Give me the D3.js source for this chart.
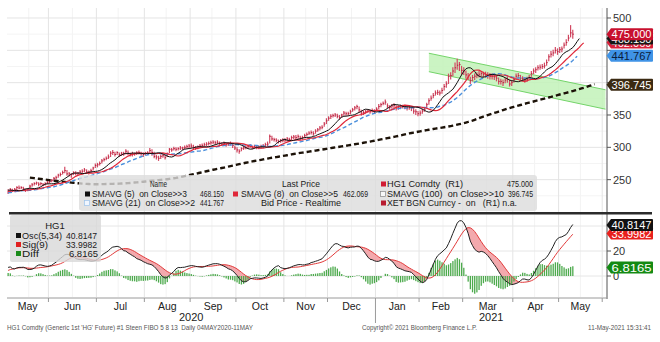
<!DOCTYPE html>
<html><head><meta charset="utf-8">
<script src="https://cdn.jsdelivr.net/npm/d3@7"></script>
<style>
body{margin:0;background:#fff}
svg{display:block}
text{font-family:"Liberation Sans",Arial,sans-serif;white-space:pre}
</style>
</head><body>
<svg id="c" width="660" height="342"></svg>
<script>
// ---------------- DATA ----------------
const startDate = "2020-05-04";
const holidays = ["2020-05-25","2020-07-03","2020-09-07","2020-11-26","2020-12-25","2021-01-01","2021-04-02","2021-05-31"];
// closes before the window (12-Dec-2019 .. 01-May-2020), only feed the averages
const preClose = [
 277,279,281,281,280,280,281,282,282,284,284,282,280,
 283,279,278,279,279,281,283,285,287,285,286,287,286,280,276,270,265,255,255,254,252,251,
 253,255,260,260,256,257,261,262,260,260,260,260,262,262,259,255,257,256,255,251,
 255,258,260,
 258,256,250,254,252,246,247,241,234,222,213,216,212,217,220,218,219,217,224,
 217,223,221,221,227,228,230,231,233,230,231,235,233,228,231,233,233,232,233,238,233,231];
// daily HG1 close / high / low, 04-May-2020 .. 11-May-2021 (US cents/lb)
const close = [
 231,235,233,235,238,237,238,236,234,235,240,242,244,245,243,244,242,244,246,
 247,249,252,253,257,258,261,264,259,259,258,261,260,260,262,263,265,262,262,264,268,272,
 273,275,279,281,283,285,291,292,289,292,289,291,290,294,291,289,290,290,291,292,290,289,
 291,291,295,292,286,285,283,286,287,284,290,297,296,298,297,298,299,299,300,301,302,
 302,300,299,301,302,303,304,305,306,307,308,307,308,306,305,306,304,305,306,303,299,
 296,294,298,299,300,301,302,300,301,300,300,301,302,304,305,317,313,312,311,309,310,311,
 311,313,312,315,316,315,317,314,315,318,320,322,323,321,325,327,330,331,336,341,
 345,348,349,350,348,346,350,353,352,352,355,358,361,363,358,353,354,355,356,355,357,356,
 359,363,366,368,370,364,362,364,365,361,362,362,363,363,361,362,361,356,355,352,
 353,356,359,366,372,376,380,384,385,384,388,394,398,410,411,418,423,427,428,419,
 418,412,410,403,408,410,412,413,414,413,412,411,410,410,409,407,402,402,400,404,405,398,400,
 405,410,411,407,406,404,405,408,414,418,420,423,424,425,426,431,440,444,446,450,448,
 451,452,458,462,469,477,475];
const high = [
 235,237,236,237,240,241,240,239,236,237,242,245,246,247,246,246,245,246,248,
 249,251,254,256,259,261,264,270,265,262,260,263,263,262,265,266,268,266,264,267,270,275,
 276,278,282,284,286,289,294,296,293,294,292,293,293,297,295,292,293,292,294,295,293,292,
 293,294,299,297,293,288,287,289,290,288,292,299,299,301,300,300,302,301,303,304,305,
 306,304,302,303,305,306,307,308,309,310,311,310,311,309,308,309,307,308,309,307,303,
 300,297,300,302,303,304,305,303,304,303,303,304,305,307,309,320,318,315,314,312,313,314,
 314,316,315,318,319,319,320,318,318,321,323,325,326,325,328,330,333,334,339,345,
 348,351,352,353,352,350,352,356,355,355,358,361,364,366,363,358,357,358,359,358,360,359,
 362,367,369,371,374,368,365,367,368,365,365,366,366,366,364,365,364,361,359,356,
 357,360,362,369,376,380,384,388,389,388,392,398,402,414,416,424,431,437,432,426,
 424,419,415,409,412,414,416,418,418,417,417,416,415,414,414,412,408,406,405,408,410,405,404,
 409,414,415,412,410,408,409,412,418,422,424,427,428,429,431,436,444,449,451,455,453,
 455,456,462,467,474,489,482];
const low = [
 228,230,231,232,234,235,235,233,231,232,235,239,241,242,240,241,240,241,243,
 244,246,248,250,253,255,258,260,256,255,253,257,257,257,259,260,262,259,258,261,264,268,
 269,272,275,278,280,282,285,288,286,288,285,287,287,289,288,286,286,287,288,289,287,285,
 288,288,290,287,283,281,279,282,284,281,285,291,293,295,294,295,296,296,297,298,299,
 299,297,296,297,299,300,301,302,303,304,305,304,305,302,302,303,301,302,303,299,296,
 292,290,294,296,297,298,299,297,298,297,297,298,299,300,301,306,310,309,308,306,307,308,
 308,309,309,311,313,312,313,311,312,314,317,319,320,318,321,324,326,328,332,336,
 341,344,346,347,345,343,346,349,349,349,351,355,357,359,354,349,350,352,353,352,354,352,
 355,359,362,365,366,360,358,360,361,357,358,359,360,359,357,358,356,352,350,348,
 349,352,355,360,366,372,376,380,381,380,383,388,392,398,405,410,415,420,418,412,
 412,406,404,398,402,404,407,408,409,408,408,406,405,405,404,402,397,397,395,399,400,394,395,
 400,405,407,403,402,400,401,404,409,413,415,419,420,421,422,426,433,439,441,445,443,
 446,447,453,457,464,470,468];
// moving-average settings: [period, forward shift]
const maSettings = {sma5:[5,3], sma8:[8,5], sma21:[21,2], sma100:[100,10]};
// trend channel
const channelDates = ["2021-02-05","2021-06-02"];
const channelTop = [445.5, 389];
const channelBot = [417, 359];
// axis ticks (labels shown)
const priceTicks = [250,300,350,400,450,500];
const priceLabels = [250,300,350,500];
const oscTicks = [0,20,40];
const oscLabels = [0,20];
// last values
const lastVals = {hg1:475.000, sma5:468.150, sma8:462.069, sma21:441.767, sma100:396.745, osc:40.8147, sig:33.9982, diff:6.8165};

// ---------------- SETUP ----------------
function tradingDays(start, n, hol){
  const out=[], hs=new Set(hol), d=new Date(start+"T00:00:00Z");
  while(out.length<n){const wd=d.getUTCDay(), s=d.toISOString().slice(0,10);
    if(wd!==0&&wd!==6&&!hs.has(s)) out.push(s); d.setUTCDate(d.getUTCDate()+1);}
  return out;
}
const days = tradingDays(startDate, 285, holidays);
const idxOf = new Map(days.map((d,i)=>[d,i]));
const N = close.length, P = preClose.length;
const all = preClose.concat(close);

const svg = d3.select("#c");
const L=7, R=607, mT=8, mB=212, oT=214, oB=297;
const x = d3.scaleLinear().domain([-0.5, 274.7]).range([L, R]);
const y = d3.scaleLinear().domain([200, 515.46]).range([mB, mT]);
const yo = d3.scaleLinear().domain([-16.8, 49.6]).range([oB, oT]);

const defs = svg.append("defs");
defs.append("clipPath").attr("id","cm").append("rect").attr("x",L).attr("y",mT).attr("width",R-L).attr("height",mB-mT);
defs.append("clipPath").attr("id","co").append("rect").attr("x",L).attr("y",oT).attr("width",R-L).attr("height",oB-oT);

// month boundaries
const bounds=[]; const mids=[];
for(let i=1;i<days.length;i++){
  if(days[i].slice(5,7)!==days[i-1].slice(5,7)) bounds.push({i, m:days[i].slice(0,7)});
  if(+days[i].slice(8,10)>=16 && +days[i-1].slice(8,10)<16) mids.push(i);
}
const gBounds = bounds.filter(b=>x(b.i-0.5)<R);

// ---------------- GRID ----------------
const grid = svg.append("g");
mids.filter(i=>x(i-0.5)<R).forEach(i=>{
  grid.append("line").attr("x1",x(i-0.5)).attr("x2",x(i-0.5)).attr("y1",mT).attr("y2",mB).attr("stroke","#f3f3f3");
  grid.append("line").attr("x1",x(i-0.5)).attr("x2",x(i-0.5)).attr("y1",oT).attr("y2",oB).attr("stroke","#f3f3f3");
});
[225,275,325,375,425,475].forEach(v=>grid.append("line").attr("x1",L).attr("x2",R).attr("y1",y(v)).attr("y2",y(v)).attr("stroke","#f4f4f4"));
gBounds.forEach(b=>{
  grid.append("line").attr("x1",x(b.i-0.5)).attr("x2",x(b.i-0.5)).attr("y1",mT).attr("y2",mB).attr("stroke","#e4e4e4");
  grid.append("line").attr("x1",x(b.i-0.5)).attr("x2",x(b.i-0.5)).attr("y1",oT).attr("y2",oB).attr("stroke","#e4e4e4");
});
priceTicks.forEach(v=>grid.append("line").attr("x1",L).attr("x2",R).attr("y1",y(v)).attr("y2",y(v)).attr("stroke","#e4e4e4"));
oscTicks.forEach(v=>grid.append("line").attr("x1",L).attr("x2",R).attr("y1",yo(v)).attr("y2",yo(v)).attr("stroke","#e6e6e6"));

// ---------------- MAIN PANEL ----------------
const gm = svg.append("g").attr("clip-path","url(#cm)");
const c0=idxOf.get(channelDates[0]), c1=idxOf.get(channelDates[1]);
gm.append("path").attr("d",`M${x(c0)},${y(channelTop[0])}L${x(c1)},${y(channelTop[1])}L${x(c1)},${y(channelBot[1])}L${x(c0)},${y(channelBot[0])}Z`)
  .attr("fill","#c2f2b8").attr("opacity",0.85);
[channelTop,channelBot].forEach(a=>gm.append("line").attr("x1",x(c0)).attr("y1",y(a[0])).attr("x2",x(c1)).attr("y2",y(a[1])).attr("stroke","#74d46a").attr("stroke-width",1));

// price bars
gm.append("g").selectAll("line").data(close).join("line")
  .attr("x1",(d,i)=>x(i)).attr("x2",(d,i)=>x(i))
  .attr("y1",(d,i)=>y(high[i])).attr("y2",(d,i)=>y(low[i]))
  .attr("stroke","#d24862").attr("stroke-width",1.2);
gm.append("g").selectAll("line").data(close).join("line")
  .attr("x1",(d,i)=>x(i)-0.2).attr("x2",(d,i)=>x(i)+1.1)
  .attr("y1",d=>y(d)).attr("y2",d=>y(d))
  .attr("stroke","#b8203c").attr("stroke-width",1);

function smaAt(k,n){ if(k-n+1<0) return null; let s=0; for(let t=k-n+1;t<=k;t++) s+=all[t]; return s/n; }
function displaced([n,shift]){ const pts=[]; for(let i=0;i<N+shift;i++){ const k=P+i-shift; const v=smaAt(k,n); if(v!=null) pts.push([i,v]); } return pts; }
const line = d3.line().x(d=>x(d[0])).y(d=>y(d[1]));
gm.append("path").attr("d",line(displaced(maSettings.sma100)))
  .attr("fill","none").attr("stroke","#1c1208").attr("stroke-width",2.4).attr("stroke-dasharray","5,3");
gm.append("path").attr("d",line(displaced(maSettings.sma21))).attr("fill","none").attr("stroke","#4a8fdc").attr("stroke-width",1.4).attr("stroke-dasharray","4,2.5");
gm.append("path").attr("d",line(displaced(maSettings.sma8))).attr("fill","none").attr("stroke","#e0283a").attr("stroke-width",1.2);
gm.append("path").attr("d",line(displaced(maSettings.sma5))).attr("fill","none").attr("stroke","#111").attr("stroke-width",1);

// legend box (main)
const lg = svg.append("g");
lg.append("rect").attr("x",79).attr("y",175).attr("width",458).attr("height",36).attr("rx",3)
  .attr("fill","#dcdcdc").attr("opacity",0.8);
function t(g,xp,yp,str,opt={}){ const e=g.append("text").attr("x",xp).attr("y",yp).text(str)
  .attr("font-size",opt.fs||9).attr("fill",opt.fill||"#1a1a1a");
  if(opt.anchor) e.attr("text-anchor",opt.anchor); if(opt.tl) e.attr("textLength",opt.tl).attr("lengthAdjust","spacingAndGlyphs"); return e;}
function sq(g,xp,yp,fill,stroke){ g.append("rect").attr("x",xp).attr("y",yp).attr("width",5).attr("height",5).attr("fill",fill).attr("stroke",stroke||"none").attr("stroke-width",0.7);}
const f3=d3.format(".3f"), f4=d3.format(".4f");
t(lg,150,187,"Name",{tl:17});
t(lg,282,187,"Last Price",{tl:38});
sq(lg,381,181.5,"#d01c34"); t(lg,387,187,"HG1 Comdty  (R1)",{tl:76});
t(lg,507,187,f3(lastVals.hg1),{tl:26});
sq(lg,85,191.5,"#111"); t(lg,92,197,"SMAVG (5)  on Close>>3",{tl:95});
t(lg,200,197,f3(lastVals.sma5),{tl:24});
sq(lg,233,191.5,"#e0283a"); t(lg,241,197,"SMAVG (8)  on Close>>5",{tl:97});
t(lg,343,197,f3(lastVals.sma8),{tl:25});
sq(lg,380.5,191.5,"#f8f8f8","#888"); t(lg,387,197,"SMAVG (100)  on Close>>10",{tl:117});
t(lg,508,197,f3(lastVals.sma100),{tl:25});
sq(lg,84.5,200.5,"#f0f6ff","#9cc4ec"); t(lg,92,206,"SMAVG (21)  on Close>>2",{tl:103});
t(lg,200,206,f3(lastVals.sma21),{tl:24});
t(lg,261,206,"Bid Price - Realtime",{tl:80});
sq(lg,381,200.5,"#b81c30"); t(lg,387,206,"XET BGN Curncy -  on   (R1) n.a.",{tl:130});

// ---------------- OSC PANEL ----------------
const osc=new Array(all.length).fill(null), sig=new Array(all.length).fill(null);
for(let k=33;k<all.length;k++) osc[k]=smaAt(k,5)-smaAt(k,34);
for(let k=41;k<all.length;k++){ let s=0; for(let t2=k-8;t2<=k;t2++) s+=osc[t2]; sig[k]=s/9; }
const od=[]; for(let i=0;i<N;i++){ const k=P+i; od.push({i, o:osc[k], s:sig[k], d:osc[k]-sig[k]}); }

const go = svg.append("g").attr("clip-path","url(#co)");
go.append("path").attr("d",d3.area().x(d=>x(d.i)).y0(d=>yo(d.o)).y1(d=>yo(Math.max(d.o,d.s)))(od))
  .attr("fill","#f2a0a4").attr("opacity",0.9);
go.append("g").selectAll("rect").data(od).join("rect")
  .attr("x",d=>x(d.i)-0.6).attr("width",1.3)
  .attr("y",d=>Math.min(yo(0),yo(d.d))).attr("height",d=>Math.abs(yo(d.d)-yo(0)))
  .attr("fill","#4daa4d");
go.append("path").attr("d",d3.line().x(d=>x(d.i)).y(d=>yo(d.s))(od)).attr("fill","none").attr("stroke","#e23a3a").attr("stroke-width",1);
go.append("path").attr("d",d3.line().x(d=>x(d.i)).y(d=>yo(d.o))(od)).attr("fill","none").attr("stroke","#222").attr("stroke-width",1);

// osc legend
const ol = svg.append("g");
ol.append("rect").attr("x",10).attr("y",215).attr("width",91).attr("height",47).attr("rx",2).attr("fill","#d8d8d8").attr("opacity",0.8);
t(ol,55,229,"HG1",{fs:9.5,anchor:"middle"});
sq(ol,16,233,"#111"); t(ol,22,238.5,"Osc(5,34)",{fs:9.5,tl:40});
t(ol,66,238.5,f4(lastVals.osc),{fs:9.5,tl:31});
sq(ol,16,242,"#e02020"); t(ol,22,247.5,"Sig(9)",{fs:9.5,tl:26});
t(ol,66,247.5,f4(lastVals.sig),{fs:9.5,tl:31});
sq(ol,16,251,"#1a8a1a"); t(ol,22,256.5,"Diff",{fs:9.5,tl:17});
t(ol,98,256.5,f4(lastVals.diff),{fs:9.5,anchor:"end"});

// ---------------- AXES ----------------
const ax = svg.append("g");
ax.append("line").attr("x1",R).attr("x2",R).attr("y1",mT).attr("y2",oB+2).attr("stroke","#555");
priceTicks.forEach(v=>ax.append("line").attr("x1",R).attr("x2",R+4).attr("y1",y(v)).attr("y2",y(v)).attr("stroke","#555"));
priceLabels.forEach(v=>t(ax,R+6,y(v)+4,String(v),{fs:11,fill:"#333"}));
oscTicks.forEach(v=>ax.append("line").attr("x1",R).attr("x2",R+4).attr("y1",yo(v)).attr("y2",yo(v)).attr("stroke","#555"));
oscLabels.forEach(v=>t(ax,R+6,yo(v)+4,String(v),{fs:11,fill:"#333"}));
// separator
ax.append("line").attr("x1",9).attr("x2",652).attr("y1",213.3).attr("y2",213.3).attr("stroke","#2b2b2b").attr("stroke-width",2.6);
// bottom axis
ax.append("line").attr("x1",L).attr("x2",R).attr("y1",oB+1).attr("y2",oB+1).attr("stroke","#9a9a9a");
const fmtM = d3.utcFormat("%b");
const edges=[L].concat(gBounds.map(b=>x(b.i-0.5)));
const labels=[days[0].slice(0,7)].concat(gBounds.map(b=>b.m));
gBounds.forEach(b=>{ const isYear=b.m.endsWith("-01");
  ax.append("line").attr("x1",x(b.i-0.5)).attr("x2",x(b.i-0.5)).attr("y1",oB+1).attr("y2",isYear?323:302).attr("stroke","#9a9a9a"); });
for(let j=0;j<labels.length;j++){
  const a=edges[j], bnd=(j+1<edges.length?edges[j+1]:R+1);
  if(bnd-a<25) continue;
  t(ax,(a+bnd)/2,310,fmtM(new Date(labels[j]+"-01T00:00:00Z")),{fs:10.5,anchor:"middle",fill:"#222"});
}
const yb = gBounds.find(b=>b.m.endsWith("-01"));
t(ax,(L+x(yb.i-0.5))/2,321,"2020",{fs:11,anchor:"middle",fill:"#222"});
t(ax,(x(yb.i-0.5)+R)/2,321,"2021",{fs:11,anchor:"middle",fill:"#222"});

// footer
t(ax,7,330,"HG1 Comdty (Generic 1st 'HG' Future) #1 Steen FIBO 5 8 13  Daily 04MAY2020-11MAY",{fs:6.3,fill:"#555",tl:246});
t(ax,362,330,"Copyright\u00A9 2021 Bloomberg Finance L.P.",{fs:6.3,fill:"#555",tl:115});
t(ax,651,330,"11-May-2021 15:31:41",{fs:6.3,fill:"#555",anchor:"end"});

// ---------------- TAGS ----------------
function tag(yc,str,fill,tc){
  const g=svg.append("g");
  g.append("path").attr("d",`M${R-0.5},${yc}L${R+4},${yc-6}L${R+45},${yc-6}Q${R+46},${yc-6} ${R+46},${yc-5}L${R+46},${yc+5}Q${R+46},${yc+6} ${R+45},${yc+6}L${R+4},${yc+6}Z`).attr("fill",fill);
  g.append("text").attr("x",R+4.5).attr("y",yc+4.2).text(str).attr("font-size",11.5).attr("fill",tc).attr("textLength",40).attr("lengthAdjust","spacingAndGlyphs");
}
tag(y(lastVals.sma100),f3(lastVals.sma100),"#3b2a12","#fff");
tag(y(lastVals.sma21),f3(lastVals.sma21),"#3f93e6","#0b1c3c");
tag(y(lastVals.sma8),f3(lastVals.sma8),"#d8203a","#fff");
tag(y(lastVals.sma5),f3(lastVals.sma5),"#161616","#fff");
tag(y(lastVals.hg1),f3(lastVals.hg1),"#c8102e","#fff");
tag(yo(lastVals.diff),f4(lastVals.diff),"#138a13","#fff");
tag(yo(lastVals.sig),f4(lastVals.sig),"#e8201c","#fff");
tag(yo(lastVals.osc),f4(lastVals.osc),"#111","#fff");
</script>
</body></html>
